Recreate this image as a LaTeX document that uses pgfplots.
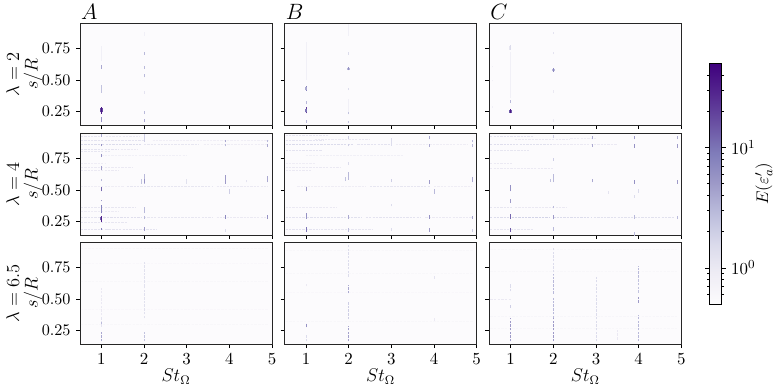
\documentclass[border=0pt]{standalone}
\usepackage{pgfplots}
\usepackage{pgfplotstable}
\pgfplotsset{compat=1.18}

% every streak: start (x,y), extent (dx,dy), energy e
\pgfplotstableread{
x y dx dy e
1.00 0.65 0 0.12 0.8
1.00 0.59 0 0.03 4
1.00 0.40 0 0.06 2.5
1.00 0.235 0 0.055 35
0.98 0.245 0 0.035 18
1.02 0.245 0 0.035 18
1.00 0.165 0 0.045 6
2.00 0.85 0 0.03 0.8
2.00 0.70 0 0.02 3
2.00 0.59 0 0.02 3
2.00 0.52 0 0.03 3
2.00 0.39 0 0.02 1.2
2.00 0.23 0 0.025 3
2.00 0.165 0 0.03 4
}\Atwo
\pgfplotstableread{
x y dx dy e
1.00 0.50 0 0.30 0.8
1.00 0.417 0 0.038 8
0.98 0.425 0 0.02 4
1.02 0.425 0 0.02 4
1.00 0.308 0 0.027 3
1.00 0.237 0 0.048 22
0.98 0.245 0 0.03 10
1.02 0.245 0 0.03 10
1.00 0.163 0 0.021 3
2.00 0.85 0 0.09 0.8
2.00 0.70 0 0.018 1.5
2.00 0.575 0 0.03 6
1.98 0.58 0 0.015 3
2.02 0.58 0 0.015 3
2.00 0.42 0 0.02 1.5
2.00 0.228 0 0.02 2.5
2.00 0.16 0 0.02 2.5
2.00 0.25 0 0.1 0.8
}\Btwo
\pgfplotstableread{
x y dx dy e
1.00 0.36 0 0.36 0.8
1.00 0.737 0 0.038 1.5
0.98 0.74 0 0.03 1.1
1.00 0.32 0 0.02 3
1.00 0.237 0 0.033 35
0.98 0.24 0 0.025 14
1.02 0.24 0 0.025 14
0.57 0.28 0 0.012 0.8
0.57 0.49 0 0.012 0.8
0.57 0.60 0 0.012 0.8
2.00 0.865 0 0.015 1.2
2.00 0.705 0 0.012 1.2
2.00 0.565 0 0.03 7
1.98 0.57 0 0.02 3
2.02 0.57 0 0.02 3
2.00 0.40 0 0.02 1
2.00 0.17 0 0.02 1
}\Ctwo

% lambda=4, horizontal bands
\pgfplotstableread{
x y dx dy e
0.52 0.925 0.50 0 1.1
1.10 0.925 0.80 0 1.0
0.52 0.89 1.50 0 1.2
2.20 0.89 2.70 0 0.85
0.52 0.855 0.45 0 1.6
1.02 0.855 0.90 0 1.5
2.00 0.855 1.30 0 1.1
3.40 0.855 1.50 0 0.9
0.52 0.82 0.90 0 1.2
1.45 0.82 0.40 0 1.0
0.52 0.80 0.70 0 1.1
1.00 0.775 2.00 0 0.8
0.52 0.71 0.60 0 0.9
0.52 0.68 1.20 0 1.0
0.52 0.65 0.90 0 1.0
0.52 0.53 1.00 0 0.9
1.60 0.53 2.00 0 1.1
3.70 0.53 1.20 0 1.0
0.52 0.365 1.30 0 1.1
0.52 0.33 0.90 0 0.95
0.52 0.285 0.50 0 1.2
1.05 0.285 0.90 0 1.4
2.00 0.285 1.60 0 1.1
3.70 0.285 1.20 0 1.0
0.52 0.24 1.10 0 1.1
0.52 0.185 0.70 0 1.2
1.10 0.185 1.20 0 1.2
}\Aband
\pgfplotstableread{
x y dx dy e
0.52 0.93 1.00 0 1.1
1.20 0.90 1.30 0 1.0
0.52 0.89 0.90 0 1.2
0.52 0.855 0.45 0 1.6
1.02 0.855 1.10 0 1.5
2.20 0.855 0.80 0 1.2
3.10 0.855 1.70 0 0.9
0.52 0.815 0.85 0 1.2
1.00 0.775 2.30 0 0.8
0.52 0.71 0.70 0 0.9
0.52 0.68 1.30 0 1.0
0.52 0.65 0.60 0 1.0
0.80 0.53 1.60 0 0.9
2.50 0.53 1.40 0 1.1
4.00 0.53 0.90 0 0.9
0.52 0.365 1.20 0 1.0
0.52 0.285 0.45 0 1.2
1.02 0.285 1.30 0 1.3
2.40 0.285 1.30 0 1.2
3.80 0.285 1.10 0 1.0
0.52 0.185 0.80 0 1.2
1.35 0.185 1.20 0 1.1
}\Bband
\pgfplotstableread{
x y dx dy e
0.52 0.92 1.00 0 1.2
1.10 0.90 1.30 0 1.0
2.40 0.905 0.60 0 0.9
0.52 0.86 0.50 0 1.4
1.05 0.86 0.95 0 1.3
2.00 0.86 1.50 0 1.0
0.52 0.815 0.90 0 1.1
0.52 0.71 0.50 0 1.0
0.52 0.67 1.50 0 1.0
0.52 0.365 0.50 0 1.1
1.10 0.365 1.20 0 1.0
0.52 0.285 0.45 0 1.5
1.02 0.285 0.90 0 1.8
2.00 0.285 0.90 0 1.5
2.95 0.285 1.90 0 1.3
0.52 0.185 1.00 0 1.1
}\Cband

% lambda=4, vertical streaks
\pgfplotstableread{
x y dx dy e
1.00 0.92 0 0.02 4
1.00 0.845 0 0.02 6
1.00 0.76 0 0.02 6
1.00 0.66 0 0.03 5
1.00 0.57 0 0.015 3
1.00 0.49 0 0.03 12
1.00 0.41 0 0.015 5
1.00 0.315 0 0.065 8
1.00 0.25 0 0.045 32
0.98 0.26 0 0.03 12
1.00 0.185 0 0.015 8
2.00 0.88 0 0.06 2
2.00 0.55 0 0.08 3
2.00 0.555 0 0.03 6
1.93 0.55 0 0.035 2.5
2.00 0.315 0 0.05 3
2.00 0.275 0 0.02 3
2.00 0.175 0 0.03 5
3.00 0.55 0 0.04 1.3
3.90 0.875 0 0.02 4
3.90 0.845 0 0.02 3
3.90 0.55 0 0.07 5
3.90 0.27 0 0.035 7
3.90 0.17 0 0.02 1.5
4.00 0.47 0 0.04 2
4.40 0.56 0 0.02 1.2
4.90 0.875 0 0.02 3
4.90 0.84 0 0.025 4
4.90 0.56 0 0.05 4
4.90 0.27 0 0.03 6
}\Afour
\pgfplotstableread{
x y dx dy e
1.00 0.49 0 0.03 5
1.00 0.27 0 0.05 6
1.00 0.17 0 0.04 10
2.00 0.905 0 0.02 2
2.00 0.845 0 0.02 2
2.00 0.70 0 0.02 1.5
2.00 0.58 0 0.06 3
1.93 0.57 0 0.03 2.5
2.00 0.27 0 0.03 4
2.00 0.17 0 0.03 3
3.00 0.85 0 0.06 1.5
3.00 0.56 0 0.03 2
3.00 0.37 0 0.02 1.5
3.00 0.18 0 0.02 1.5
3.90 0.90 0 0.025 4
3.90 0.84 0 0.025 4
3.90 0.55 0 0.03 5
4.00 0.47 0 0.04 3
3.90 0.275 0 0.025 6
3.90 0.17 0 0.03 5
4.90 0.875 0 0.02 3
4.90 0.84 0 0.02 3
4.90 0.56 0 0.04 4
4.90 0.27 0 0.025 4
4.90 0.17 0 0.02 2
}\Bfour
\pgfplotstableread{
x y dx dy e
1.00 0.49 0 0.05 6
1.00 0.40 0 0.03 5
1.00 0.27 0 0.04 12
1.00 0.17 0 0.03 14
2.00 0.91 0 0.02 2
2.00 0.73 0 0.02 2
2.00 0.56 0 0.065 3
1.93 0.565 0 0.025 2.5
2.00 0.355 0 0.02 3
2.00 0.27 0 0.03 5
2.00 0.18 0 0.025 3
2.92 0.90 0 0.025 4
2.92 0.84 0 0.025 4
2.92 0.56 0 0.03 4
3.30 0.47 0 0.025 1.2
3.90 0.90 0 0.025 5
3.90 0.835 0 0.03 6
3.90 0.55 0 0.03 6
3.90 0.44 0 0.02 1.5
3.90 0.275 0 0.025 3
3.90 0.14 0 0.03 3
4.00 0.48 0 0.03 1.5
4.90 0.90 0 0.025 4
4.90 0.835 0 0.03 5
4.90 0.55 0 0.03 5
4.90 0.27 0 0.025 3
}\Cfour

% lambda=6.5, faint dashed streaks
\pgfplotstableread{
x y dx dy e
0.52 0.90 4.40 0 0.6
0.52 0.78 4.40 0 0.58
0.52 0.64 4.40 0 0.6
0.52 0.42 4.40 0 0.58
0.52 0.30 4.40 0 0.6
1.00 0.37 0 0.22 1.0
1.00 0.28 0 0.08 1.2
1.00 0.165 0 0.08 4
1.00 0.30 0 0.02 3
2.00 0.60 0 0.20 1.3
2.00 0.35 0 0.25 1.3
2.00 0.165 0 0.08 2.5
}\Asix
\pgfplotstableread{
x y dx dy e
0.52 0.88 4.40 0 0.6
0.52 0.70 4.40 0 0.6
0.52 0.55 4.40 0 0.58
0.52 0.32 4.40 0 0.6
1.00 0.60 0 0.015 1
1.00 0.276 0 0.03 6
1.00 0.165 0 0.055 1.5
2.00 0.675 0 0.25 1.5
2.00 0.545 0 0.065 4
2.00 0.34 0 0.135 2
2.00 0.165 0 0.12 4.5
4.00 0.66 0 0.02 1.2
4.00 0.33 0 0.02 1
}\Bsix
\pgfplotstableread{
x y dx dy e
0.52 0.89 4.40 0 0.6
0.52 0.72 4.40 0 0.6
0.52 0.50 0.50 0 1
0.52 0.36 4.40 0 0.62
0.52 0.27 4.40 0 0.6
1.00 0.56 0 0.06 1.5
1.00 0.43 0 0.02 2
1.00 0.165 0 0.185 5
2.00 0.68 0 0.23 1.5
2.00 0.54 0 0.16 3
2.00 0.35 0 0.16 3
2.00 0.165 0 0.185 5
3.00 0.165 0 0.51 1.5
3.50 0.18 0 0.08 1
4.00 0.67 0 0.09 3
4.00 0.55 0 0.12 2.5
4.00 0.47 0 0.05 5
4.00 0.165 0 0.21 3
}\Csix

\pgfplotsset{
  colormap={purples}{rgb255=(252,251,253) rgb255=(239,237,245) rgb255=(218,218,235)
    rgb255=(188,189,220) rgb255=(158,154,200) rgb255=(128,125,186)
    rgb255=(106,81,163) rgb255=(84,39,143) rgb255=(63,0,125)},
  panel/.style={
    scale only axis, width=124.8pt, height=66.1pt,
    anchor=south west,
    xmin=0.5, xmax=5, ymin=0.145, ymax=0.947,
    xtick={1,2,3,4,5}, ytick={0.25,0.5,0.75},
    yticklabels={0.25,0.50,0.75},
    tick align=outside, tick pos=left,
    major tick length=2.6pt,
    tick style={black, line width=0.55pt},
    axis line style={black!85, line width=0.6pt},
    axis background/.style={fill={rgb,255:red,252;green,251;blue,253}},
    point meta min=-0.30, point meta max=1.70,
    tick label style={font=\fontsize{10.5}{12}\selectfont},
    label style={font=\fontsize{11.5}{12}\selectfont},
    ylabel style={align=center, at={(axis description cs:-0.29,0.5)}, anchor=center},
    xlabel style={font=\fontsize{12}{12}\selectfont, at={(axis description cs:0.5,-0.32)}, anchor=center},
    title style={at={(axis description cs:0,1)}, anchor=south west, font=\Large, inner sep=0.5pt, yshift=-4pt},
  },
  nox/.style={xticklabels={}},
  noy/.style={yticklabels={}},
  streak/.style={
    point meta={log10(\thisrow{e})},
    quiver={u=\thisrow{dx}, v=\thisrow{dy}, colored=mapped color,
      every arrow/.append style={-, line width=0.6pt, line cap=butt}},
  },
  band/.style={
    point meta={log10(\thisrow{e})},
    quiver={u=\thisrow{dx}, v=\thisrow{dy}, colored=mapped color,
      every arrow/.append style={-, line width=0.65pt, line cap=butt, dash pattern=on 1.5pt off 0.7pt}},
  },
  faint/.style={
    point meta={log10(\thisrow{e})},
    quiver={u=\thisrow{dx}, v=\thisrow{dy}, colored=mapped color,
      every arrow/.append style={-, line width=0.42pt, line cap=butt, dash pattern=on 1.6pt off 0.8pt}},
  },
}

\begin{document}
\begin{tikzpicture}
\path[use as bounding box] (0pt,0pt) rectangle (505.05pt,252.85pt);

% lambda = 2
\begin{axis}[panel, nox, at={(52pt,171.6pt)}, title={$A$}, ylabel={$\lambda=2$\\$s/R$}]
\addplot[streak] table {\Atwo};
\end{axis}
\begin{axis}[panel, nox, noy, at={(185.05pt,171.6pt)}, title={$B$}]
\addplot[streak] table {\Btwo};
\end{axis}
\begin{axis}[panel, nox, noy, at={(318.05pt,171.6pt)}, title={$C$}]
\addplot[streak] table {\Ctwo};
\end{axis}

% lambda = 4
\begin{axis}[panel, nox, at={(52pt,100.1pt)}, ylabel={$\lambda=4$\\$s/R$}]
\addplot[band] table {\Aband};
\addplot[streak] table {\Afour};
\end{axis}
\begin{axis}[panel, nox, noy, at={(185.05pt,100.1pt)}]
\addplot[band] table {\Bband};
\addplot[streak] table {\Bfour};
\end{axis}
\begin{axis}[panel, nox, noy, at={(318.05pt,100.1pt)}]
\addplot[band] table {\Cband};
\addplot[streak] table {\Cfour};
\end{axis}

% lambda = 6.5
\begin{axis}[panel, at={(52pt,29.25pt)}, ylabel={$\lambda=6.5$\\$s/R$}, xlabel={$St_\Omega$}]
\addplot[faint] table {\Asix};
\end{axis}
\begin{axis}[panel, noy, at={(185.05pt,29.25pt)}, xlabel={$St_\Omega$}]
\addplot[faint] table {\Bsix};
\end{axis}
\begin{axis}[panel, noy, at={(318.05pt,29.25pt)}, xlabel={$St_\Omega$}]
\addplot[faint] table {\Csix};
\end{axis}

% colour bar, in log10 of E
\begin{axis}[
  hide axis, scale only axis, anchor=south west,
  at={(461.05pt,55.25pt)}, width=8.06pt, height=156.45pt,
  xmin=0, xmax=1, ymin=0, ymax=1,
  point meta min=-0.30, point meta max=1.70,
  colorbar,
  colorbar style={
    at={(0,0)}, anchor=south west,
    width=8.06pt, height=156.45pt,
    ytick={0,1}, yticklabels={$10^{0}$,$10^{1}$},
    minor ytick={-0.222,-0.155,-0.097,-0.046,0.301,0.477,0.602,0.699,0.778,0.845,0.903,0.954,1.301,1.477,1.602},
    major tick length=2.6pt, minor tick length=1.5pt,
    tick align=outside, tick style={black, line width=0.4pt},
    axis line style={black, line width=0.6pt},
    yticklabel pos=right,
    tick label style={font=\fontsize{11}{12}\selectfont},
    ylabel={$E(\varepsilon_a')$},
    ylabel style={font=\fontsize{11}{12}\selectfont, at={(axis description cs:4.4,0.5)}, anchor=center, rotate=0},
  },
]
\addplot[draw=none] coordinates {(0,0)};
\end{axis}
\end{tikzpicture}
\end{document}
